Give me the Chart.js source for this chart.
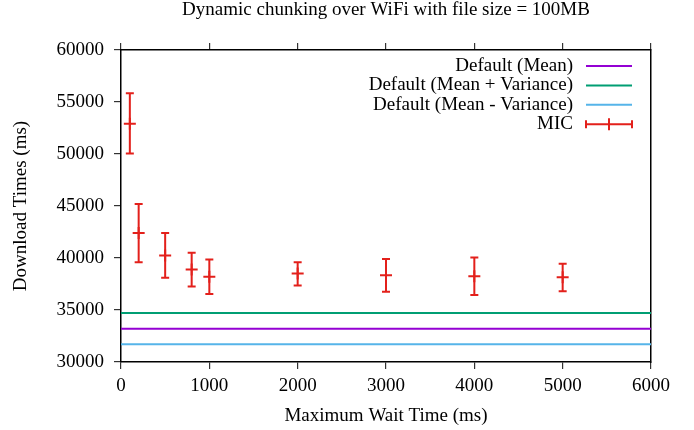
<!DOCTYPE html>
<html>
<head>
<meta charset="utf-8">
<script src="https://cdn.jsdelivr.net/npm/chart.js@4"></script>
<style>
  body { margin: 0; background: #fff; }
  #wrap { width: 694px; height: 430px; }
</style>
</head>
<body>
<div id="wrap"><canvas id="chart" width="694" height="430"></canvas></div>
<script>
// data
const waitTimes = [100, 200, 500, 800, 1000, 2000, 3000, 4000, 5000];
const micMean = [52900, 42400, 40250, 38900, 38200, 38500, 38350, 38250, 38150];
const micLow = [50050, 39600, 38100, 37250, 36550, 37350, 36750, 36450, 36800];
const micHigh = [55850, 45200, 42400, 40500, 39850, 39600, 39900, 40050, 39450];

const defaultMean = 33200;
const defaultMeanPlusVar = 34700;
const defaultMeanMinusVar = 31700;

const seriesNames = ["Default (Mean)", "Default (Mean + Variance)", "Default (Mean - Variance)", "MIC"];
const seriesColors = ["#9400d3", "#009e73", "#56b4e9", "#e3201b"];

const xRange = [0, 6000];
const yRange = [30000, 60000];

Chart.defaults.font.family = "'Liberation Serif', 'Times New Roman', serif";
Chart.defaults.font.size = 19;
Chart.defaults.color = "#000";

const flat = (v) => xRange.map((x) => ({ x: x, y: v }));
const plain = (v) => String(v);

// gnuplot style error bars for the MIC series
const errorBars = {
  id: "errorBars",
  afterDatasetsDraw(chart) {
    const ctx = chart.ctx;
    const xs = chart.scales.x;
    const ys = chart.scales.y;
    ctx.save();
    ctx.strokeStyle = seriesColors[3];
    ctx.lineWidth = 2;
    waitTimes.forEach((t, i) => {
      const px = xs.getPixelForValue(t);
      const lo = ys.getPixelForValue(micLow[i]);
      const hi = ys.getPixelForValue(micHigh[i]);
      ctx.beginPath();
      ctx.moveTo(px, lo);
      ctx.lineTo(px, hi);
      ctx.moveTo(px - 4, lo);
      ctx.lineTo(px + 4, lo);
      ctx.moveTo(px - 4, hi);
      ctx.lineTo(px + 4, hi);
      ctx.stroke();
    });
    ctx.restore();
  }
};

// legend inside the plot, text right aligned with sample on the right
const keyBox = {
  id: "keyBox",
  afterDraw(chart) {
    const ctx = chart.ctx;
    const area = chart.chartArea;
    const textRight = area.right - 78;
    const x0 = area.right - 65;
    const x1 = area.right - 19;
    ctx.save();
    ctx.font = "19px 'Liberation Serif', serif";
    ctx.textAlign = "right";
    ctx.textBaseline = "middle";
    seriesNames.forEach((name, i) => {
      const y = area.top + 16 + i * 19.4;
      ctx.fillStyle = "#000";
      ctx.fillText(name, textRight, y);
      ctx.strokeStyle = seriesColors[i];
      ctx.lineWidth = 2;
      ctx.beginPath();
      ctx.moveTo(x0, y);
      ctx.lineTo(x1, y);
      if (i === 3) {
        ctx.moveTo(x0, y - 4);
        ctx.lineTo(x0, y + 4);
        ctx.moveTo(x1, y - 4);
        ctx.lineTo(x1, y + 4);
        const xm = (x0 + x1) / 2;
        ctx.moveTo(xm, y - 6);
        ctx.lineTo(xm, y + 6);
      }
      ctx.stroke();
    });
    ctx.restore();
  }
};

const data = {
  datasets: [
    { label: seriesNames[0], data: flat(defaultMean), borderColor: seriesColors[0], borderWidth: 2, pointRadius: 0, showLine: true },
    { label: seriesNames[1], data: flat(defaultMeanPlusVar), borderColor: seriesColors[1], borderWidth: 2, pointRadius: 0, showLine: true },
    { label: seriesNames[2], data: flat(defaultMeanMinusVar), borderColor: seriesColors[2], borderWidth: 2, pointRadius: 0, showLine: true },
    {
      label: seriesNames[3],
      data: waitTimes.map((t, i) => ({ x: t, y: micMean[i] })),
      borderColor: seriesColors[3],
      backgroundColor: seriesColors[3],
      pointStyle: "cross",
      pointRadius: 6,
      pointBorderWidth: 2,
      showLine: false
    }
  ]
};

const tickGrid = { drawOnChartArea: false, drawTicks: true, tickLength: 7, color: "#333", lineWidth: 1.2 };
const axisBorder = { display: true, color: "#000", width: 1.5 };

const options = {
  responsive: false,
  animation: false,
  layout: { padding: 0 },
  plugins: {
    legend: { display: false },
    tooltip: { enabled: false },
    title: {
      display: true,
      fullSize: false,
      text: "Dynamic chunking over WiFi with file size = 100MB",
      font: { size: 19, weight: "normal", lineHeight: 1.1 },
      padding: { top: 0, bottom: 0 }
    }
  },
  scales: {
    x: {
      type: "linear",
      position: "bottom",
      min: xRange[0],
      max: xRange[1],
      ticks: { stepSize: 1000, padding: 6, maxRotation: 0, callback: plain },
      grid: tickGrid,
      border: axisBorder,
      title: { display: true, text: "Maximum Wait Time (ms)", padding: { top: 0, bottom: 3 } },
      afterFit: (s) => { s.height = 68; }
    },
    x2: {
      type: "linear",
      position: "top",
      min: xRange[0],
      max: xRange[1],
      ticks: { stepSize: 1000, display: false },
      grid: tickGrid,
      border: axisBorder,
      afterFit: (s) => { s.height = 29.1; }
    },
    y: {
      type: "linear",
      position: "left",
      min: yRange[0],
      max: yRange[1],
      ticks: { stepSize: 5000, padding: 10, callback: plain },
      grid: tickGrid,
      border: axisBorder,
      title: { display: true, text: "Download Times (ms)", padding: { top: 9.5, bottom: 0 } },
      afterFit: (s) => { s.width = 121; }
    },
    y2: {
      type: "linear",
      position: "right",
      min: yRange[0],
      max: yRange[1],
      ticks: { display: false },
      grid: { display: false, drawTicks: false },
      border: axisBorder,
      afterFit: (s) => { s.width = 43; }
    }
  }
};

new Chart(document.getElementById("chart").getContext("2d"), {
  type: "scatter",
  data,
  options,
  plugins: [errorBars, keyBox]
});
</script>
</body>
</html>
